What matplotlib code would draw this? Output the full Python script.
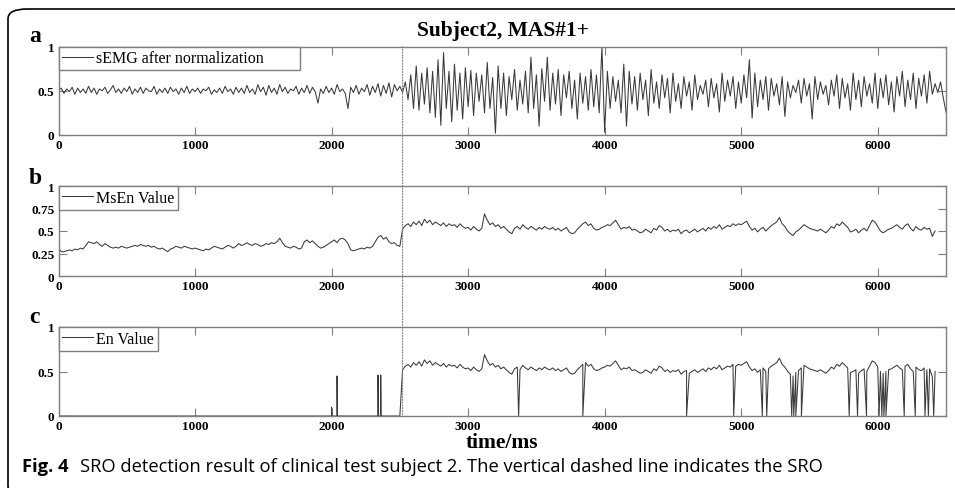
import numpy as np
import matplotlib
matplotlib.use("Agg")
import matplotlib.pyplot as plt
from matplotlib.patches import FancyBboxPatch, ConnectionPatch

# sampling step of the hand-read series (ms)
step = 20
onset = 2520

# sEMG after normalization, every 20 ms from 0 to 6500
semg = [
    0.50, 0.53, 0.47, 0.52, 0.49, 0.54, 0.46, 0.53, 0.48, 0.52,
    0.47, 0.55, 0.48, 0.53, 0.46, 0.52, 0.50, 0.54, 0.47, 0.51,
    0.56, 0.48, 0.52, 0.47, 0.53, 0.49, 0.55, 0.46, 0.52, 0.48,
    0.54, 0.47, 0.53, 0.50, 0.49, 0.55, 0.46, 0.52, 0.48, 0.53,
    0.47, 0.54, 0.49, 0.52, 0.46, 0.53, 0.48, 0.55, 0.47, 0.52,
    0.49, 0.53, 0.47, 0.52, 0.50, 0.54, 0.46, 0.51, 0.48, 0.53,
    0.47, 0.55, 0.49, 0.52, 0.46, 0.54, 0.48, 0.53, 0.47, 0.56,
    0.48, 0.52, 0.46, 0.57, 0.49, 0.54, 0.45, 0.56, 0.48, 0.53,
    0.46, 0.57, 0.49, 0.54, 0.47, 0.52, 0.50, 0.55, 0.46, 0.53,
    0.48, 0.56, 0.47, 0.54, 0.49, 0.36, 0.52, 0.47, 0.55, 0.48,
    0.53, 0.46, 0.57, 0.49, 0.52, 0.47, 0.30, 0.54, 0.48, 0.56,
    0.46, 0.53, 0.49, 0.57, 0.45, 0.55, 0.48, 0.58, 0.44, 0.56,
    0.47, 0.59, 0.43, 0.57, 0.50, 0.55, 0.48, 0.60, 0.40, 0.68,
    0.30, 0.78, 0.28, 0.70, 0.35, 0.76, 0.25, 0.72, 0.20, 0.85,
    0.11, 0.93, 0.30, 0.72, 0.15, 0.80, 0.28, 0.70, 0.18, 0.76,
    0.32, 0.73, 0.22, 0.70, 0.38, 0.68, 0.25, 0.82, 0.30, 0.65,
    0.02, 0.78, 0.30, 0.70, 0.22, 0.66, 0.40, 0.74, 0.28, 0.62,
    0.35, 0.72, 0.25, 0.88, 0.30, 0.68, 0.10, 0.75, 0.38, 0.88,
    0.28, 0.70, 0.35, 0.74, 0.22, 0.68, 0.42, 0.72, 0.30, 0.62,
    0.18, 0.70, 0.36, 0.66, 0.28, 0.74, 0.32, 0.68, 0.25, 1.00,
    0.03, 0.72, 0.30, 0.66, 0.38, 0.62, 0.25, 0.80, 0.10, 0.72,
    0.35, 0.66, 0.28, 0.70, 0.40, 0.62, 0.22, 0.74, 0.36, 0.60,
    0.30, 0.68, 0.42, 0.64, 0.25, 0.70, 0.38, 0.58, 0.30, 0.66,
    0.44, 0.60, 0.28, 0.68, 0.40, 0.56, 0.46, 0.62, 0.32, 0.64,
    0.42, 0.58, 0.26, 0.70, 0.38, 0.62, 0.44, 0.66, 0.30, 0.60,
    0.36, 0.68, 0.42, 0.85, 0.19, 0.70, 0.32, 0.62, 0.40, 0.66,
    0.28, 0.64, 0.44, 0.58, 0.34, 0.66, 0.21, 0.60, 0.42, 0.56,
    0.48, 0.62, 0.36, 0.64, 0.44, 0.58, 0.18, 0.66, 0.40, 0.60,
    0.46, 0.56, 0.34, 0.62, 0.44, 0.68, 0.30, 0.64, 0.42, 0.58,
    0.28, 0.70, 0.40, 0.62, 0.32, 0.66, 0.44, 0.58, 0.36, 0.70,
    0.30, 0.64, 0.42, 0.68, 0.34, 0.60, 0.26, 0.66, 0.44, 0.72,
    0.32, 0.62, 0.40, 0.70, 0.30, 0.64, 0.44, 0.68, 0.36, 0.72,
    0.46, 0.58, 0.48, 0.60, 0.42, 0.26,
]

# MsEn value, every 20 ms from 0 to 6420
msen = [
    0.31, 0.27, 0.27, 0.28, 0.29, 0.28, 0.30, 0.29, 0.31, 0.30,
    0.34, 0.38, 0.37, 0.36, 0.38, 0.35, 0.33, 0.36, 0.34, 0.32,
    0.31, 0.32, 0.31, 0.33, 0.32, 0.31, 0.32, 0.33, 0.34, 0.33,
    0.35, 0.34, 0.33, 0.34, 0.32, 0.33, 0.31, 0.30, 0.31, 0.29,
    0.27, 0.30, 0.31, 0.33, 0.32, 0.31, 0.33, 0.32, 0.31, 0.30,
    0.31, 0.30, 0.29, 0.28, 0.30, 0.29, 0.31, 0.33, 0.32, 0.31,
    0.30, 0.32, 0.34, 0.33, 0.31, 0.33, 0.36, 0.34, 0.35, 0.37,
    0.35, 0.34, 0.36, 0.35, 0.33, 0.34, 0.36, 0.35, 0.37, 0.36,
    0.38, 0.42, 0.37, 0.33, 0.32, 0.31, 0.33, 0.32, 0.30, 0.31,
    0.38, 0.40, 0.37, 0.39, 0.36, 0.33, 0.31, 0.32, 0.34, 0.36,
    0.38, 0.40, 0.37, 0.41, 0.42, 0.40, 0.36, 0.29, 0.28, 0.29,
    0.30, 0.31, 0.30, 0.32, 0.31, 0.33, 0.38, 0.43, 0.45, 0.41,
    0.43, 0.38, 0.36, 0.37, 0.34, 0.33, 0.52, 0.56, 0.58, 0.55,
    0.60, 0.57, 0.61, 0.56, 0.63, 0.59, 0.62, 0.57, 0.60, 0.58,
    0.56, 0.59, 0.55, 0.58, 0.56, 0.57, 0.54, 0.58, 0.55, 0.53,
    0.54, 0.51, 0.55, 0.52, 0.50, 0.53, 0.69, 0.62, 0.57, 0.59,
    0.55, 0.57, 0.53, 0.55, 0.52, 0.49, 0.47, 0.53, 0.55, 0.52,
    0.57, 0.54, 0.52, 0.55, 0.53, 0.51, 0.54, 0.52, 0.55, 0.53,
    0.52, 0.54, 0.51, 0.53, 0.50, 0.52, 0.54, 0.49, 0.47, 0.48,
    0.52, 0.55, 0.58, 0.60, 0.56, 0.58, 0.53, 0.51, 0.52, 0.54,
    0.55, 0.57, 0.56, 0.59, 0.62, 0.57, 0.52, 0.54, 0.53, 0.55,
    0.51, 0.52, 0.50, 0.48, 0.49, 0.52, 0.50, 0.48, 0.53, 0.51,
    0.56, 0.54, 0.50, 0.52, 0.49, 0.51, 0.50, 0.52, 0.47, 0.50,
    0.51, 0.48, 0.50, 0.52, 0.49, 0.51, 0.53, 0.50, 0.54, 0.52,
    0.55, 0.53, 0.57, 0.52, 0.54, 0.56, 0.55, 0.58, 0.56, 0.58,
    0.57, 0.59, 0.61, 0.55, 0.51, 0.53, 0.49, 0.52, 0.54, 0.50,
    0.53, 0.56, 0.58, 0.60, 0.65, 0.58, 0.55, 0.50, 0.47, 0.45,
    0.49, 0.51, 0.54, 0.57, 0.55, 0.53, 0.52, 0.51, 0.50, 0.52,
    0.50, 0.48, 0.51, 0.55, 0.53, 0.58, 0.56, 0.60, 0.57, 0.54,
    0.49, 0.50, 0.52, 0.48, 0.51, 0.53, 0.50, 0.56, 0.62, 0.60,
    0.55, 0.50, 0.48, 0.50, 0.52, 0.53, 0.55, 0.57, 0.54, 0.52,
    0.56, 0.58, 0.53, 0.50, 0.55, 0.52, 0.51, 0.54, 0.52, 0.53,
    0.44, 0.50,
]

# En value: spikes before the SRO and drop-outs to zero after it
en_spike_t = [2000, 2040, 2340, 2360]
en_spike_v = [0.10, 0.45, 0.46, 0.46]
en_drop_t = [3370, 3840, 4600, 4945, 5155, 5187, 5370, 5385, 5400, 5441,
             5791, 5852, 5918, 6010, 6030, 6045, 6060, 6194, 6275, 6346,
             6371, 6410]

t_semg = np.arange(len(semg)) * step
t_msen = np.arange(len(msen)) * step

# build En from MsEn (zero before onset) plus the spikes and drop-outs
pts = [(ti, vi if ti >= onset else 0.0) for ti, vi in zip(t_msen, msen)]
for ts, vs in zip(en_spike_t, en_spike_v):
    pts += [(ts - 2, 0.0), (ts, vs), (ts + 2, 0.0)]
for td in en_drop_t:
    pts.append((td, 0.0))
pts.sort(key=lambda p: p[0])
t_en = [p[0] for p in pts]
en = [p[1] for p in pts]

W, H = 955, 489
fig = plt.figure(figsize=(W / 100, H / 100), dpi=100)

serif = "Liberation Serif"
sans = "Open Sans"
gray = "#7f7f7f"
line_c = "#3a3a3a"


def px_axes(x0, y0, x1, y1):
    return fig.add_axes([x0 / W, 1 - y1 / H, (x1 - x0) / W, (y1 - y0) / H])


def style(ax, yticks, ylabels):
    ax.set_xlim(0, 6500)
    ax.set_ylim(0, 1)
    ax.set_xticks([0, 1000, 2000, 3000, 4000, 5000, 6000])
    ax.set_yticks(yticks)
    ax.set_yticklabels(ylabels)
    ax.tick_params(direction="in", length=6, color=gray, width=0.8,
                   top=True, right=True, pad=3, labelsize=9.5)
    for lab in ax.get_xticklabels() + ax.get_yticklabels():
        lab.set_family(serif)
        lab.set_fontweight("bold")
    for s in ax.spines.values():
        s.set_color(gray)
        s.set_linewidth(1.0)


def legend(ax, label):
    lg = ax.legend([label], loc="upper left", borderaxespad=0, fancybox=False,
                   edgecolor=gray, framealpha=1, borderpad=0.25,
                   handlelength=1.9, handletextpad=0.2,
                   prop={"family": serif, "size": 11.5})
    lg.get_frame().set_linewidth(1.0)


ax_a = px_axes(58.5, 47.5, 946, 136)
ax_a.plot(t_semg, semg, color=line_c, lw=0.75)
style(ax_a, [0, 0.5, 1], ["0", "0.5", "1"])
legend(ax_a, "sEMG after normalization" + "\u00a0" * 8)

ax_b = px_axes(58.5, 187, 946, 277)
ax_b.plot(t_msen, msen, color=line_c, lw=0.75)
style(ax_b, [0, 0.25, 0.5, 0.75, 1], ["0", "0.25", "0.5", "0.75", "1"])
legend(ax_b, "MsEn Value")

ax_c = px_axes(58.5, 328, 946, 417)
ax_c.plot(t_en, en, color=line_c, lw=0.75)
style(ax_c, [0, 0.5, 1], ["0", "0.5", "1"])
legend(ax_c, "En Value")

# SRO marker across the three panels
con = ConnectionPatch(xyA=(onset, 1), coordsA=ax_a.transData,
                      xyB=(onset, 0), coordsB=ax_c.transData,
                      linestyle=(0, (1, 1.5)), color=gray, lw=0.8)
fig.add_artist(con)

fig.text(503 / W, 1 - 31 / H, "Subject2, MAS#1+", family=serif,
         fontweight="bold", fontsize=15.5, ha="center", va="center")
fig.text(502 / W, 1 - 443 / H, "time/ms", family=serif,
         fontweight="bold", fontsize=15.5, ha="center", va="center")
for lab, yb in [("a", 42), ("b", 184), ("c", 323)]:
    fig.text(29 / W, 1 - yb / H, lab, family=serif, fontweight="bold",
             fontsize=17, ha="left", va="baseline")

# caption
cap_y = 1 - 472 / H
t1 = fig.text(22 / W, cap_y, "Fig. 4", family=sans, fontweight="bold",
              fontsize=13.2, ha="left", va="baseline")
fig.canvas.draw()
bb = t1.get_window_extent(fig.canvas.get_renderer())
fig.text((bb.x1 + 11) / W, cap_y,
         "SRO detection result of clinical test subject 2. "
         "The vertical dashed line indicates the SRO",
         family=sans, fontsize=13.2, ha="left", va="baseline")

# rounded frame around the figure
frame = FancyBboxPatch((8 / W, -8 / H), 980 / W, (H - 10 + 8) / H,
                       boxstyle="round,pad=0,rounding_size=0.02",
                       transform=fig.transFigure, fill=False,
                       edgecolor="black", lw=1.2, clip_on=False)
fig.add_artist(frame)

fig.savefig("out.png", dpi=100)
